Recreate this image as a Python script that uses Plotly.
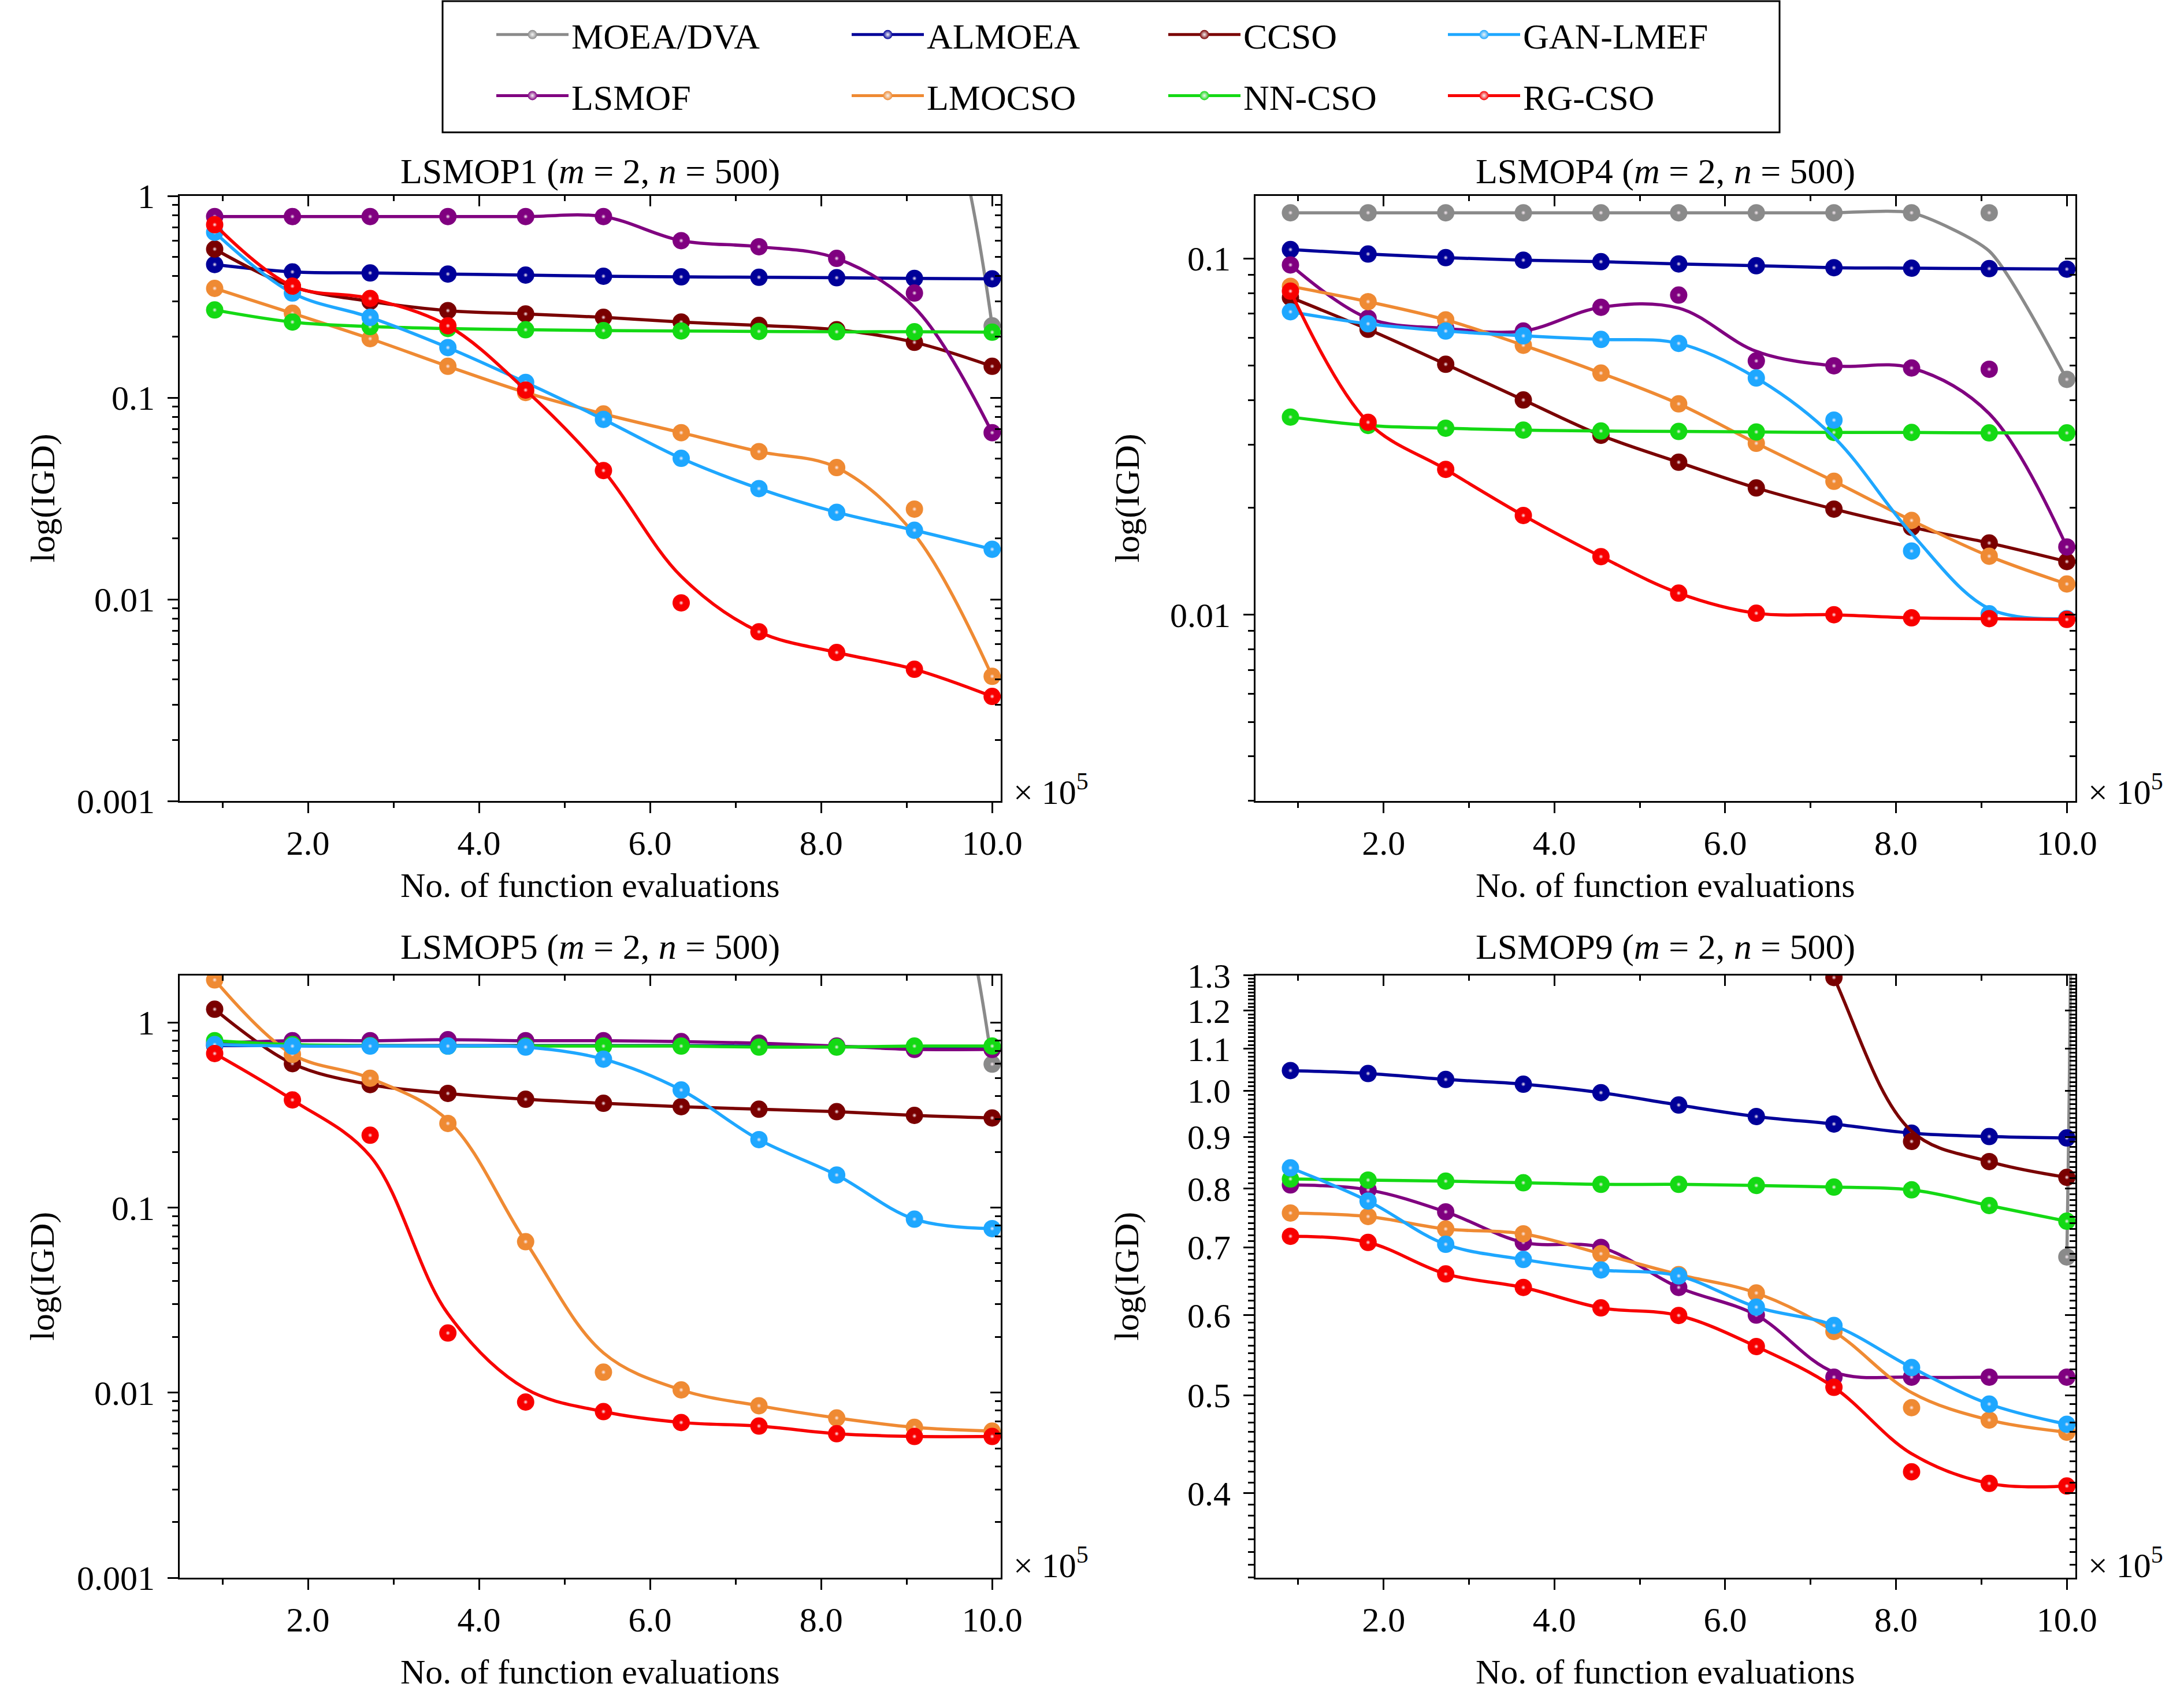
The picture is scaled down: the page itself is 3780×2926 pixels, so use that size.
import plotly.graph_objects as go

# evaluations (x 10^5) at which IGD was recorded
X_EVALS = [0.909, 1.818, 2.727, 3.636, 4.545, 5.455, 6.364, 7.273, 8.182, 9.091, 10.0]

ALGORITHMS = ["MOEA/DVA", "ALMOEA", "CCSO", "GAN-LMEF", "LSMOF", "LMOCSO", "NN-CSO", "RG-CSO"]
COLORS = ["#8a8a8a", "#000099", "#7a0000", "#1ea7ff", "#800080", "#ef8a33", "#14d914", "#f80000"]
# stacking order of the curves (GAN-LMEF sits above NN-CSO, RG-CSO on top)
DRAW_ORDER = [0, 1, 2, 4, 5, 6, 3, 7]

# ---- LSMOP1 ----
LSMOP1_MOEADVA = [6, 6, 6, 6, 6, 6, 6, 6, 6, 6, 0.227]
LSMOP1_ALMOEA = [0.457, 0.42, 0.415, 0.41, 0.405, 0.40, 0.397, 0.395, 0.393, 0.39, 0.388]
LSMOP1_CCSO = [0.545, 0.355, 0.30, 0.27, 0.26, 0.25, 0.237, 0.228, 0.217, 0.188, 0.143]
LSMOP1_GANLMEF = [0.66, 0.33, 0.25, 0.177, 0.119, 0.078, 0.050, 0.0354, 0.027, 0.022, 0.0177]
LSMOP1_LSMOF = [0.79, 0.79, 0.79, 0.79, 0.79, 0.79, 0.60, 0.56, 0.49, 0.33, 0.067]
LSMOP1_LMOCSO = [0.348, 0.262, 0.196, 0.143, 0.106, 0.083, 0.067, 0.054, 0.045, 0.028, 0.00415]
LSMOP1_NNCSO = [0.272, 0.237, 0.225, 0.22, 0.217, 0.215, 0.214, 0.213, 0.212, 0.212, 0.211]
LSMOP1_RGCSO = [0.72, 0.357, 0.31, 0.227, 0.109, 0.0435, 0.0096, 0.0069, 0.00545, 0.0045, 0.0033]
# fitted curves that do not go through every marker
LSMOP1_LSMOF_CURVE = [0.79, 0.79, 0.79, 0.79, 0.79, 0.79, 0.60, 0.56, 0.49, 0.28, 0.067]
LSMOP1_LMOCSO_CURVE = [0.348, 0.262, 0.196, 0.143, 0.106, 0.083, 0.067, 0.054, 0.045, 0.021, 0.00415]
LSMOP1_RGCSO_CURVE = [0.72, 0.357, 0.31, 0.227, 0.109, 0.0435, 0.013, 0.0069, 0.00545, 0.0045, 0.0033]

# ---- LSMOP4 ----
LSMOP4_MOEADVA = [0.1345, 0.1345, 0.1345, 0.1345, 0.1345, 0.1345, 0.1345, 0.1345, 0.1345, 0.1345, 0.0458]
LSMOP4_ALMOEA = [0.106, 0.103, 0.1006, 0.099, 0.098, 0.0966, 0.0955, 0.0943, 0.094, 0.0937, 0.0934]
LSMOP4_CCSO = [0.0778, 0.0633, 0.0505, 0.0401, 0.0319, 0.0268, 0.0227, 0.0198, 0.0176, 0.0159, 0.0141]
LSMOP4_GANLMEF = [0.0709, 0.0656, 0.0626, 0.0607, 0.0593, 0.0578, 0.0462, 0.0352, 0.0151, 0.01006, 0.00975]
LSMOP4_LSMOF = [0.096, 0.068, 0.0637, 0.0626, 0.073, 0.079, 0.0516, 0.050, 0.0493, 0.0489, 0.0155]
LSMOP4_LMOCSO = [0.0836, 0.0757, 0.0673, 0.0571, 0.0477, 0.0391, 0.0303, 0.0237, 0.0184, 0.0146, 0.0122]
LSMOP4_NNCSO = [0.0359, 0.034, 0.0334, 0.033, 0.0328, 0.0327, 0.0326, 0.0325, 0.0325, 0.0324, 0.0324]
LSMOP4_RGCSO = [0.081, 0.0347, 0.0256, 0.019, 0.01456, 0.0115, 0.0101, 0.0100, 0.0098, 0.00975, 0.0097]
LSMOP4_MOEADVA_CURVE = [0.1345, 0.1345, 0.1345, 0.1345, 0.1345, 0.1345, 0.1345, 0.1345, 0.1345, 0.105, 0.0458]
LSMOP4_GANLMEF_CURVE = [0.0709, 0.0656, 0.0626, 0.0607, 0.0593, 0.0578, 0.0462, 0.0315, 0.0169, 0.0104, 0.00975]
LSMOP4_LSMOF_CURVE = [0.096, 0.068, 0.0637, 0.0626, 0.073, 0.0726, 0.0549, 0.050, 0.0493, 0.0367, 0.0155]

# ---- LSMOP5 ----
LSMOP5_MOEADVA = [20, 20, 20, 20, 20, 20, 20, 20, 20, 20, 0.596]
LSMOP5_ALMOEA = [0.75, 0.75, 0.75, 0.75, 0.75, 0.75, 0.75, 0.745, 0.74, 0.735, 0.735]
LSMOP5_CCSO = [1.18, 0.60, 0.462, 0.414, 0.385, 0.366, 0.351, 0.34, 0.33, 0.315, 0.305]
LSMOP5_GANLMEF = [0.76, 0.746, 0.746, 0.746, 0.737, 0.634, 0.432, 0.233, 0.15, 0.0866, 0.077]
LSMOP5_LSMOF = [0.774, 0.798, 0.798, 0.808, 0.798, 0.798, 0.789, 0.774, 0.746, 0.716, 0.716]
LSMOP5_LMOCSO = [1.70, 0.673, 0.50, 0.285, 0.0654, 0.0129, 0.01035, 0.0085, 0.0073, 0.0065, 0.0062]
LSMOP5_NNCSO = [0.798, 0.76, 0.751, 0.746, 0.746, 0.746, 0.746, 0.737, 0.737, 0.746, 0.746]
LSMOP5_RGCSO = [0.68, 0.382, 0.246, 0.021, 0.0089, 0.0079, 0.0069, 0.0066, 0.006, 0.0058, 0.0058]
LSMOP5_LMOCSO_CURVE = [1.70, 0.673, 0.50, 0.296, 0.0654, 0.0164, 0.01035, 0.0085, 0.0073, 0.0065, 0.0062]
LSMOP5_RGCSO_CURVE = [0.68, 0.382, 0.19, 0.0267, 0.0105, 0.0079, 0.0069, 0.0066, 0.006, 0.0058, 0.0058]

# ---- LSMOP9 ----
LSMOP9_MOEADVA = [30, 30, 30, 30, 30, 30, 30, 30, 30, 30, 0.685]
LSMOP9_ALMOEA = [1.047, 1.040, 1.026, 1.015, 0.9956, 0.968, 0.943, 0.927, 0.908, 0.901, 0.898]
LSMOP9_CCSO = [2.0, 2.0, 2.0, 2.0, 2.0, 2.0, 2.0, 1.294, 0.891, 0.851, 0.821]
LSMOP9_GANLMEF = [0.839, 0.778, 0.705, 0.681, 0.665, 0.656, 0.611, 0.586, 0.5325, 0.49, 0.468]
LSMOP9_LSMOF = [0.807, 0.798, 0.759, 0.708, 0.70, 0.639, 0.60, 0.521, 0.521, 0.521, 0.521]
LSMOP9_LMOCSO = [0.757, 0.751, 0.730, 0.722, 0.69, 0.658, 0.631, 0.578, 0.486, 0.4725, 0.4596]
LSMOP9_NNCSO = [0.818, 0.816, 0.814, 0.811, 0.808, 0.808, 0.806, 0.803, 0.798, 0.77, 0.743]
LSMOP9_RGCSO = [0.718, 0.708, 0.659, 0.639, 0.61, 0.5995, 0.5586, 0.509, 0.42, 0.409, 0.4066]
LSMOP9_CCSO_CURVE = [2.0, 2.0, 2.0, 2.0, 2.0, 2.0, 2.0, 1.294, 0.912, 0.851, 0.821]
LSMOP9_LSMOF_CURVE = [0.807, 0.798, 0.759, 0.708, 0.70, 0.639, 0.60, 0.527, 0.521, 0.521, 0.521]
LSMOP9_LMOCSO_CURVE = [0.757, 0.751, 0.730, 0.722, 0.69, 0.658, 0.631, 0.578, 0.503, 0.4725, 0.4596]
LSMOP9_RGCSO_CURVE = [0.718, 0.708, 0.659, 0.639, 0.61, 0.5995, 0.5586, 0.509, 0.4376, 0.409, 0.4066]

X_TICKS = [2, 4, 6, 8, 10]
X_TICK_TEXT = ["2.0", "4.0", "6.0", "8.0", "10.0"]
X_MINOR = [1, 3, 5, 7, 9]

W, H = 3780, 2926
FONT = "Liberation Serif"


def log_minor(lo, hi):
    vals = []
    for e in range(-4, 2):
        for m in range(2, 10):
            v = m * 10 ** e
            if lo <= v <= hi:
                vals.append(v)
    return vals


panels = [
    dict(name="LSMOP1",
         series=[LSMOP1_MOEADVA, LSMOP1_ALMOEA, LSMOP1_CCSO, LSMOP1_GANLMEF,
                 LSMOP1_LSMOF, LSMOP1_LMOCSO, LSMOP1_NNCSO, LSMOP1_RGCSO],
         curves={"LSMOF": LSMOP1_LSMOF_CURVE, "LMOCSO": LSMOP1_LMOCSO_CURVE, "RG-CSO": LSMOP1_RGCSO_CURVE},
         yrange=[-3, 0], yticks=[0.001, 0.01, 0.1, 1], ytext=["0.001", "0.01", "0.1", "1"],
         yminor=log_minor(0.001, 1), col=0, row=0),
    dict(name="LSMOP4",
         series=[LSMOP4_MOEADVA, LSMOP4_ALMOEA, LSMOP4_CCSO, LSMOP4_GANLMEF,
                 LSMOP4_LSMOF, LSMOP4_LMOCSO, LSMOP4_NNCSO, LSMOP4_RGCSO],
         curves={"MOEA/DVA": LSMOP4_MOEADVA_CURVE, "GAN-LMEF": LSMOP4_GANLMEF_CURVE, "LSMOF": LSMOP4_LSMOF_CURVE},
         yrange=[-2.523, -0.824], yticks=[0.01, 0.1], ytext=["0.01", "0.1"],
         yminor=log_minor(0.003, 0.15), col=1, row=0),
    dict(name="LSMOP5",
         series=[LSMOP5_MOEADVA, LSMOP5_ALMOEA, LSMOP5_CCSO, LSMOP5_GANLMEF,
                 LSMOP5_LSMOF, LSMOP5_LMOCSO, LSMOP5_NNCSO, LSMOP5_RGCSO],
         curves={"LMOCSO": LSMOP5_LMOCSO_CURVE, "RG-CSO": LSMOP5_RGCSO_CURVE},
         yrange=[-3, 0.254], yticks=[0.001, 0.01, 0.1, 1], ytext=["0.001", "0.01", "0.1", "1"],
         yminor=log_minor(0.001, 1.79), col=0, row=1),
    dict(name="LSMOP9",
         series=[LSMOP9_MOEADVA, LSMOP9_ALMOEA, LSMOP9_CCSO, LSMOP9_GANLMEF,
                 LSMOP9_LSMOF, LSMOP9_LMOCSO, LSMOP9_NNCSO, LSMOP9_RGCSO],
         curves={"CCSO": LSMOP9_CCSO_CURVE, "LSMOF": LSMOP9_LSMOF_CURVE,
                 "LMOCSO": LSMOP9_LMOCSO_CURVE, "RG-CSO": LSMOP9_RGCSO_CURVE},
         yrange=[-0.4815, 0.1139], yticks=[0.4, 0.5, 0.6, 0.7, 0.8, 0.9, 1.0, 1.1, 1.2, 1.3],
         ytext=["0.4", "0.5", "0.6", "0.7", "0.8", "0.9", "1.0", "1.1", "1.2", "1.3"],
         yminor=[round(0.33 + 0.01 * i, 2) for i in range(98) if (33 + i) % 10 != 0],
         col=1, row=1),
]

COL_X = [(311, 1732), (2173, 3592)]
ROW_Y = [(339, 1386), (1688, 2730)]


def ref(prefix, k):
    return prefix if k == 1 else f"{prefix}{k}"


def name(prefix, k):
    return f"{prefix}axis" if k == 1 else f"{prefix}axis{k}"


fig = go.Figure()
layout = {}
annotations = []
tickfont = dict(family=FONT, size=60, color="black")

for i, p in enumerate(panels):
    k = i + 1
    ko = i + 5
    xr, yr = ref("x", k), ref("y", k)
    x0, x1 = COL_X[p["col"]]
    y0, y1 = ROW_Y[p["row"]]
    xdom = [x0 / W, x1 / W]
    ydom = [1 - y1 / H, 1 - y0 / H]

    for j in DRAW_ORDER:
        alg, color, vals = ALGORITHMS[j], COLORS[j], p["series"][j]
        curve = p["curves"].get(alg, vals)
        smooth = 0.6 if (p["name"] == "LSMOP4" and alg == "MOEA/DVA") else 1.0
        fig.add_trace(go.Scatter(x=X_EVALS, y=curve, mode="lines",
                                 line=dict(color=color, width=5.5, shape="spline", smoothing=smooth),
                                 xaxis=xr, yaxis=yr, showlegend=False, hoverinfo="skip"))
        fig.add_trace(go.Scatter(x=X_EVALS, y=vals, mode="markers",
                                 marker=dict(color=color, size=30, line=dict(width=0)),
                                 xaxis=xr, yaxis=yr, showlegend=False, name=alg))
        # small glossy highlight on each ball
        fig.add_trace(go.Scatter(x=X_EVALS, y=vals, mode="markers",
                                 marker=dict(color=color, size=8, line=dict(width=0),
                                             gradient=dict(type="radial", color="#fbeef5")),
                                 xaxis=xr, yaxis=yr, showlegend=False, hoverinfo="skip"))

    # invisible traces so the mirrored (inside-tick) axes get drawn
    fig.add_trace(go.Scatter(x=[None], y=[None], xaxis=ref("x", ko), yaxis=yr,
                             showlegend=False, hoverinfo="skip"))
    fig.add_trace(go.Scatter(x=[None], y=[None], xaxis=xr, yaxis=ref("y", ko),
                             showlegend=False, hoverinfo="skip"))

    common_x = dict(range=[0.5, 10.1], tickmode="array", tickvals=X_TICKS, ticktext=X_TICK_TEXT,
                    ticklen=18, tickwidth=3, tickcolor="black", showline=True, linewidth=3,
                    linecolor="black", showgrid=False, zeroline=False, tickfont=tickfont)
    common_y = dict(type="log", range=p["yrange"], tickmode="array", tickvals=p["yticks"],
                    ticktext=p["ytext"], ticklen=18, tickwidth=3, tickcolor="black", showline=True,
                    linewidth=3, linecolor="black", showgrid=False, zeroline=False, tickfont=tickfont)

    layout[name("x", k)] = dict(common_x, domain=xdom, anchor=yr, ticks="outside",
                                minor=dict(tickmode="array", tickvals=X_MINOR, ticks="outside",
                                           ticklen=9, tickwidth=3, tickcolor="black", showgrid=False))
    layout[name("x", ko)] = dict(common_x, overlaying=xr, side="top", anchor=yr, ticks="inside",
                                 showticklabels=False,
                                 minor=dict(tickmode="array", tickvals=X_MINOR, ticks="inside",
                                            ticklen=9, tickwidth=3, tickcolor="black", showgrid=False))
    layout[name("y", k)] = dict(common_y, domain=ydom, anchor=xr, ticks="outside", ticklabelstandoff=10,
                                minor=dict(tickmode="array", tickvals=p["yminor"], ticks="outside",
                                           ticklen=10, tickwidth=3, tickcolor="black", showgrid=False))
    layout[name("y", ko)] = dict(common_y, overlaying=yr, side="right", anchor=xr, ticks="inside",
                                 showticklabels=False,
                                 minor=dict(tickmode="array", tickvals=p["yminor"], ticks="inside",
                                            ticklen=10, tickwidth=3, tickcolor="black", showgrid=False))

    cx = (x0 + x1) / 2 / W
    title_y = [296, 1638][p["row"]]
    xlab_y = [1532, 2893][p["row"]]
    x105_y = [1366, 2704][p["row"]]
    ylab_x = [73, 1950][p["col"]]
    annotations.append(dict(text=f"{p['name']} (<i>m</i> = 2, <i>n</i> = 500)", x=cx, y=1 - title_y / H,
                            xref="paper", yref="paper", showarrow=False, xanchor="center", yanchor="middle",
                            font=dict(family=FONT, size=62, color="black")))
    annotations.append(dict(text="No. of function evaluations", x=cx, y=1 - xlab_y / H,
                            xref="paper", yref="paper", showarrow=False, xanchor="center", yanchor="middle",
                            font=dict(family=FONT, size=60, color="black")))
    annotations.append(dict(text="log(IGD)", x=ylab_x / W, y=(ydom[0] + ydom[1]) / 2, textangle=-90,
                            xref="paper", yref="paper", showarrow=False, xanchor="center", yanchor="middle",
                            font=dict(family=FONT, size=60, color="black")))
    annotations.append(dict(text="× 10<sup>5</sup>", x=(x1 + 20) / W, y=1 - x105_y / H,
                            xref="paper", yref="paper", showarrow=False, xanchor="left", yanchor="middle",
                            font=dict(family=FONT, size=60, color="black")))

# legend entries: 4 columns, 2 rows
LEGEND_TEXT_X = [989, 1604, 2152, 2636]
legend_ids = ["legend", "legend2", "legend3", "legend4"]
for j, (alg, color) in enumerate(zip(ALGORITHMS, COLORS)):
    fig.add_trace(go.Scatter(x=[None], y=[None], mode="lines+markers", name=alg,
                             line=dict(color=color, width=5),
                             marker=dict(color=color, size=16, line=dict(width=0),
                                         gradient=dict(type="radial", color="#f4f4f4")),
                             legend=legend_ids[j % 4], legendgroup=alg, showlegend=True))

ITEM_W = 125
for c, lid in enumerate(legend_ids):
    layout[lid] = dict(x=(LEGEND_TEXT_X[c] - ITEM_W - 10) / W, y=1 - 13 / H, xanchor="left", yanchor="top",
                       orientation="v", itemwidth=ITEM_W, tracegroupgap=22, bgcolor="rgba(0,0,0,0)",
                       font=dict(family=FONT, size=62, color="black"))

fig.update_layout(
    width=W, height=H,
    margin=dict(l=0, r=0, t=0, b=0, autoexpand=False),
    paper_bgcolor="white", plot_bgcolor="white",
    annotations=annotations,
    shapes=[dict(type="rect", xref="paper", yref="paper", x0=766 / W, x1=3080 / W,
                 y0=1 - 229 / H, y1=1 - 2 / H, line=dict(color="black", width=3))],
    showlegend=True,
    **layout,
)

# the page's default body margin would shift the figure by 8 px
fig.write_html("out.html", config={"displayModeBar": False},
               post_script="document.body.style.margin='0px';")
